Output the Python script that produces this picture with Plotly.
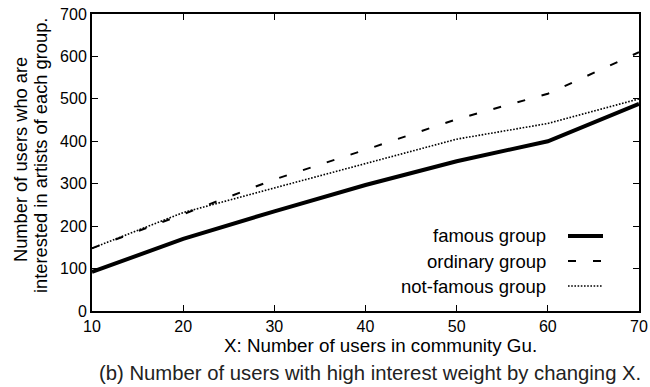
import plotly.graph_objects as go

x_users = [10, 20, 30, 40, 50, 60, 70]
famous = [92, 170, 235, 297, 353, 400, 488]
ordinary = [148, 228, 310, 380, 452, 512, 610]
not_famous = [148, 232, 290, 348, 405, 442, 500]

series_names = ["famous group", "ordinary group", "not-famous group"]
x_ticks = [10, 20, 30, 40, 50, 60, 70]
y_ticks = [0, 100, 200, 300, 400, 500, 600, 700]

FONT = "Liberation Sans, Arial, sans-serif"
W, H = 650, 387
L, R, T = 92, 11, 14
PH = 297
B = H - T - PH
PW = W - L - R

def px(xp):
    return (xp - L) / PW

def py(yp):
    return (H - B - yp) / PH

styles = [dict(width=4, dash="solid"), dict(width=2, dash="8px,17px"), dict(width=1.6, dash="1.6px,1.6px")]

fig = go.Figure()
for name, vals, st in zip(series_names, [famous, ordinary, not_famous], styles):
    fig.add_trace(go.Scatter(x=x_users, y=vals, mode="lines", name=name,
                             line=dict(color="black", **st), showlegend=False))

# manual legend (text right-aligned, sample to its right)
leg_y = [236, 261, 286]
for name, st, ly in zip(series_names, styles, leg_y):
    fig.add_annotation(xref="paper", yref="paper", x=px(548), y=py(ly), text=name, showarrow=False,
                       xanchor="right", yanchor="middle", font=dict(family=FONT, size=18.5, color="black"))
    fig.add_shape(type="line", xref="paper", yref="paper", x0=px(568), x1=px(603), y0=py(ly), y1=py(ly),
                  line=dict(color="black", **st))

# axis titles and caption
fig.add_annotation(xref="paper", yref="paper", x=px(380), y=py(345), text="X: Number of users in community Gu.",
                   showarrow=False, xanchor="center", yanchor="middle", font=dict(family=FONT, size=18.8, color="black"))
fig.add_annotation(xref="paper", yref="paper", x=px(370), y=py(373),
                   text="(b) Number of users with high interest weight by changing X.",
                   showarrow=False, xanchor="center", yanchor="middle", font=dict(family=FONT, size=20.3, color="#222"))
fig.add_annotation(xref="paper", yref="paper", x=px(20), y=py(160), text="Number of users who are",
                   textangle=-90, showarrow=False, xanchor="center", yanchor="middle",
                   font=dict(family=FONT, size=18.3, color="black"))
fig.add_annotation(xref="paper", yref="paper", x=px(40), y=py(156), text="interested in artists of each group.",
                   textangle=-90, showarrow=False, xanchor="center", yanchor="middle",
                   font=dict(family=FONT, size=18.3, color="black"))

fig.update_layout(
    width=W, height=H,
    margin=dict(l=L, r=R, t=T, b=B),
    paper_bgcolor="white", plot_bgcolor="white",
    font=dict(family=FONT, size=16, color="black"),
    xaxis=dict(range=[10, 70], tickvals=x_ticks, ticks="inside", ticklen=6, tickwidth=1, tickcolor="black",
               showline=True, linecolor="black", linewidth=2, mirror="ticks", showgrid=False, zeroline=False,
               automargin=False, tickfont=dict(size=16)),
    yaxis=dict(range=[0, 700], tickvals=y_ticks, ticks="inside", ticklen=6, tickwidth=1, tickcolor="black",
               showline=True, linecolor="black", linewidth=2, mirror="ticks", showgrid=False, zeroline=False,
               automargin=False, tickfont=dict(size=16)),
)

fig.write_html("out.html", config={"displayModeBar": False},
               post_script="document.body.style.margin='0px';document.body.style.overflow='hidden';")
